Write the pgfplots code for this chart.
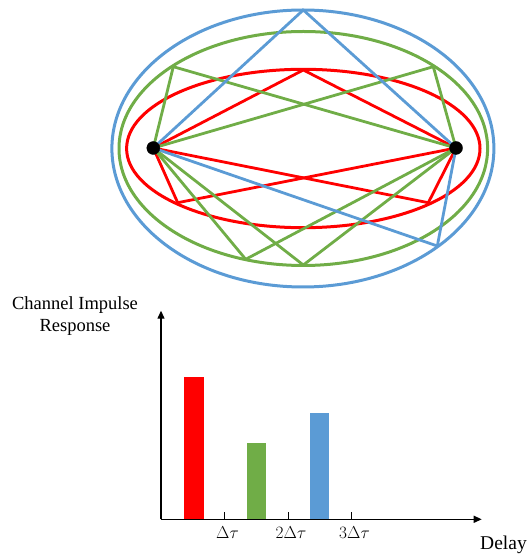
\documentclass[border=0pt]{standalone}
\usepackage{pgfplots}
\pgfplotsset{compat=1.18}
\usepackage{fontspec}
\setmainfont{Liberation Serif}
\usetikzlibrary{arrows.meta}
\definecolor{cRed}{RGB}{255,0,0}
\definecolor{cGreen}{RGB}{112,173,71}
\definecolor{cBlue}{RGB}{91,155,213}
\begin{document}
\begin{tikzpicture}
% ---- top: propagation paths in pixel-like coordinates (y measured upward) ----
\begin{axis}[
  at={(0,0)}, anchor=south west,
  scale only axis, width=528pt, height=554pt,
  xmin=0, xmax=528, ymin=0, ymax=554,
  hide axis, clip=false,
]
\draw[cBlue, line width=3pt] (axis cs:302.9,405.5) ellipse [x radius=191, y radius=138.5];
\draw[cGreen, line width=3pt] (axis cs:303.3,405.5) ellipse [x radius=184.3, y radius=117];
\draw[cRed, line width=3pt] (axis cs:303.3,405.5) ellipse [x radius=176.7, y radius=79.2];
% red paths
\addplot[cRed, line width=2.8pt, line join=round] coordinates {(153.3,406) (303.3,484) (456,406)};
\addplot[cRed, line width=2.8pt, line join=round] coordinates {(153.3,406) (177.7,351.3) (456,406)};
\addplot[cRed, line width=2.8pt, line join=round] coordinates {(153.3,406) (428.3,351.3) (456,406)};
% green paths
\addplot[cGreen, line width=2.8pt, line join=round] coordinates {(153.3,406) (173.3,487.3) (456,406)};
\addplot[cGreen, line width=2.8pt, line join=round] coordinates {(153.3,406) (433.3,487.3) (456,406)};
\addplot[cGreen, line width=2.8pt, line join=round] coordinates {(153.3,406) (245.7,294.7) (456,406)};
\addplot[cGreen, line width=2.8pt, line join=round] coordinates {(153.3,406) (303.3,289) (456,406)};
% blue paths
\addplot[cBlue, line width=2.8pt, line join=round] coordinates {(153.3,406) (303.3,544) (456,406)};
\addplot[cBlue, line width=2.8pt, line join=round] coordinates {(153.3,406) (437.3,308) (456,406)};
% transmitter / receiver
\addplot[only marks, mark=*, mark size=6.5pt, black] coordinates {(153.3,406) (456,406)};
% labels
\node[font=\fontsize{18.5}{22}\selectfont, align=center, anchor=center] at (axis cs:75,238) {Channel Impulse\\Response};
\node[font=\fontsize{19.5}{22}\selectfont, anchor=west, inner sep=0pt] at (axis cs:480,9) {Delay};
\end{axis}
% ---- bottom: channel impulse response ----
\begin{axis}[
  at={(161pt,34.7pt)}, anchor=south west,
  scale only axis, width=320.7pt, height=208.6pt,
  xmin=0, xmax=5.05, ymin=0, ymax=208.6,
  axis lines=left,
  axis line style={line width=1.3pt},
  x axis line style={-{Triangle[width=7pt,length=8pt]}},
  y axis line style={-{Triangle[width=7pt,length=8pt]}},
  xtick={1,2,3},
  xticklabels={$\Delta\tau$, $2\Delta\tau$, $3\Delta\tau$},
  ytick=\empty,
  xtick align=inside,
  major tick length=7pt,
  every tick/.style={black, line width=1pt},
  x tick label style={font=\fontsize{19}{22}\selectfont, yshift=-4pt, xshift=3pt},
  clip=false,
]
\addplot[ybar, bar width=0.3, bar shift=0pt, fill=cRed, draw=none] coordinates {(0.52,142)};
\addplot[ybar, bar width=0.3, bar shift=0pt, fill=cGreen, draw=none] coordinates {(1.51,76.6)};
\addplot[ybar, bar width=0.3, bar shift=0pt, fill=cBlue, draw=none] coordinates {(2.49,106.3)};
\end{axis}
\pgfresetboundingbox
\useasboundingbox (0,0) rectangle (528pt,554pt);
\end{tikzpicture}
\end{document}
